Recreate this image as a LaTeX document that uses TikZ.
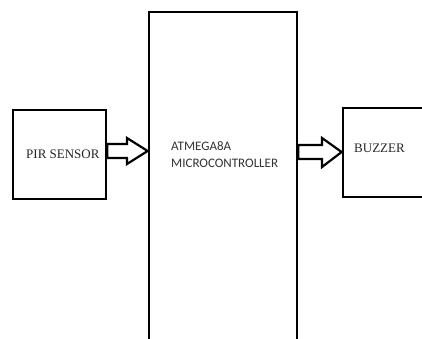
\documentclass[tikz,border=0pt]{standalone}
\usepackage{fontspec}
\setmainfont{Liberation Serif}
\newfontfamily\calib{Carlito}
\usetikzlibrary{calc}
\begin{document}
\begin{tikzpicture}[x=1pt,y=-1pt,
  blockbox/.style={draw=black,line width=2.7pt,fill=none,inner sep=0pt},
  blockarrow/.style={draw=black,line width=2.2pt,line join=miter,fill=white},
  serlabel/.style={font=\fontsize{13}{15}\selectfont,text=black!85,inner sep=0pt,anchor=base west},
  mculabel/.style={font=\calib\fontsize{13}{17}\selectfont,text=black!80,inner sep=0pt,anchor=base west,align=left}]
\useasboundingbox (0,0) rectangle (422,338);
\fill[white] (0,0) rectangle (422,338);
% boxes
\node[blockbox,minimum width=93pt,minimum height=89pt] (pir) at (59.5,154.5) {};
\node[blockbox,minimum width=148pt,minimum height=360pt] (mcu) at (223,192) {};
\node[blockbox,minimum width=100pt,minimum height=89pt] (buz) at (393,152.5) {};
% labels
\node[serlabel] (pirt) at (26,158) {PIR SENSOR};
\node[serlabel] (buzt) at (354,152) {BUZZER};
\node[mculabel] (mcut1) at (171,150) {ATMEGA8A};
\node[mculabel] (mcut2) at (171,167) {MICROCONTROLLER};
% block arrows
\draw[blockarrow] let \p1=(pir.east), \p2=(mcu.west) in
  (\x1,144) -- (127,144) -- (127,138) -- (\x2,151) -- (127,164) -- (127,158) -- (\x1,158) -- cycle;
\draw[blockarrow] let \p1=(mcu.east), \p2=(buz.west) in
  (\x1,145) -- (322,145) -- (322,138) -- (\x2,152) -- (322,167) -- (322,159) -- (\x1,159) -- cycle;
\end{tikzpicture}
\end{document}
